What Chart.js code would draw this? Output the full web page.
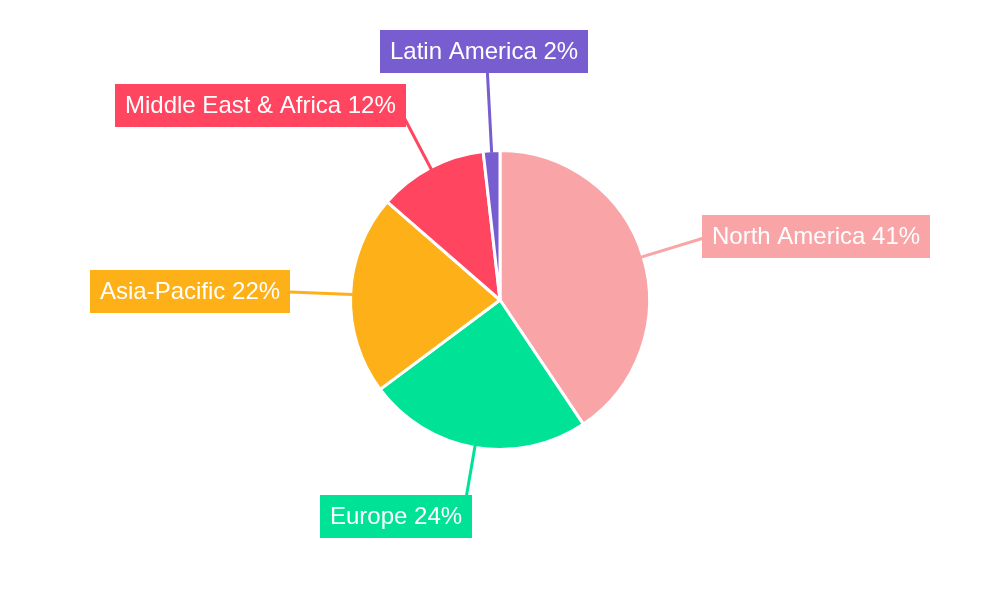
<!DOCTYPE html>
<html>
<head>
<meta charset="utf-8">
<script src="https://cdn.jsdelivr.net/npm/chart.js@4.4.1/dist/chart.umd.min.js"></script>
<style>
  html, body { margin: 0; padding: 0; background: #fff; }
  #wrap { width: 1000px; height: 600px; position: relative; }
</style>
</head>
<body>
<div id="wrap"><canvas id="pie" width="1000" height="600"></canvas></div>
<script>
// region shares
const regions = ['North America', 'Europe', 'Asia-Pacific', 'Middle East & Africa', 'Latin America'];
const shares = [40.6, 24.2, 21.6, 11.8, 1.8];
const sliceColors = ['#F9A4A6', '#00E396', '#FEB019', '#FF4560', '#775DD0'];

// callout labels with leader lines
const calloutPlugin = {
    id: 'callouts',
    afterDatasetsDraw(chart) {
        const ctx = chart.ctx;
        const meta = chart.getDatasetMeta(0);
        const data = chart.data.datasets[0].data;
        const total = data.reduce((a, b) => a + b, 0);
        const padX = 10, boxH = 43;

        ctx.save();
        ctx.font = '24px "Liberation Sans", Arial, sans-serif';
        ctx.textBaseline = 'middle';

        meta.data.forEach((arc, i) => {
            const p = arc.getProps(['x', 'y', 'startAngle', 'endAngle', 'outerRadius'], true);
            const mid = (p.startAngle + p.endAngle) / 2;
            const cos = Math.cos(mid), sin = Math.sin(mid);
            const r0 = p.outerRadius - 2;
            const r1 = p.outerRadius + 63;
            const sx = p.x + cos * r0, sy = p.y + sin * r0;
            let ax = p.x + cos * r1, ay = p.y + sin * r1;

            const text = regions[i] + ' ' + Math.round(data[i] / total * 100) + '%';
            const w = ctx.measureText(text).width + padX * 2;
            let bx, by;
            const vertical = Math.abs(cos) < 0.1;
            if (vertical) {
                bx = ax - 4 - w / 2;
                if (sin < 0) { by = ay - 15 - boxH; ay = by + boxH / 2; }
                else { by = ay + 15; ay = by + boxH / 2; }
            } else if (cos > 0) {
                bx = ax - 1;
                by = ay + 6 * sin - boxH / 2;
            } else {
                bx = ax + 2 + 6 * Math.pow(Math.abs(sin), 6) - w;
                by = ay + 7 * sin - boxH / 2;
            }

            // leader line (box is painted over its end)
            ctx.strokeStyle = sliceColors[i];
            ctx.lineWidth = 3;
            ctx.beginPath();
            ctx.moveTo(sx, sy);
            if (vertical) {
                ctx.lineTo(p.x + cos * (r1 + 30), ay);
            } else {
                ctx.lineTo(p.x + cos * (r1 + 10), p.y + sin * (r1 + 10));
            }
            ctx.stroke();

            ctx.fillStyle = sliceColors[i];
            ctx.fillRect(Math.round(bx), Math.round(by), Math.round(w), boxH);
            ctx.fillStyle = '#ffffff';
            ctx.textAlign = 'left';
            ctx.fillText(text, Math.round(bx) + padX, Math.round(by) + boxH / 2 + 1);
        });
        ctx.restore();
    }
};

new Chart(document.getElementById('pie'), {
    type: 'pie',
    data: {
        labels: regions,
        datasets: [{
            data: shares,
            backgroundColor: sliceColors,
            borderColor: '#ffffff',
            borderWidth: 3
        }]
    },
    options: {
        responsive: false,
        animation: false,
        layout: {
            padding: { top: 149, bottom: 149, left: 349, right: 349 }
        },
        plugins: {
            legend: { display: false },
            tooltip: { enabled: false }
        }
    },
    plugins: [calloutPlugin]
});
</script>
</body>
</html>
